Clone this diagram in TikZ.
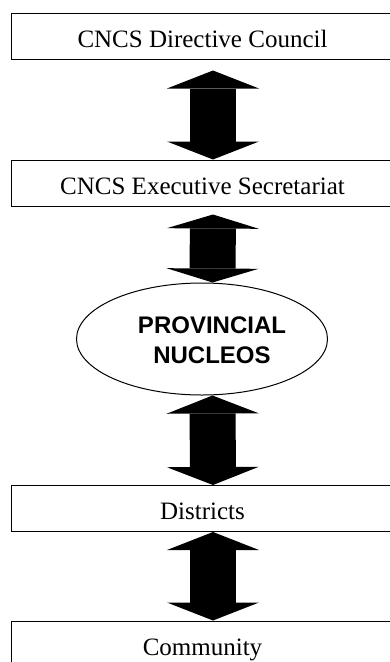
\documentclass[tikz,border=0pt]{standalone}
\usepackage{fontspec}
\setmainfont{Liberation Serif}
\newfontfamily\headfont{Liberation Sans}
\usetikzlibrary{arrows.meta,shapes.geometric}

\begin{document}
\begin{tikzpicture}
  [x=1pt,y=-1pt,every node/.style={inner sep=0pt},
   level/.style={rectangle,draw,line width=1pt,minimum width=383pt,minimum height=46pt,
     font=\fontsize{25}{30}\selectfont,text height=22pt,text depth=0pt},
   bigarrow/.style={line width=46pt,
     {Triangle[width=92pt,length=#1pt,line width=0pt]}-{Triangle[width=92pt,length=#1pt,line width=0pt]}}]
  \useasboundingbox (0,0) rectangle (390,662);

  \node[level] (council) at (202.5,36) {CNCS Directive Council};
  \node[level] (secretariat) at (202.5,183) {CNCS Executive Secretariat};
  \node[ellipse,draw,line width=1pt,minimum width=251pt,minimum height=112pt] (nucleos) at (202,339) {};
  \node[font=\headfont\bfseries\fontsize{24}{30}\selectfont,align=center] (nucleoslabel) at (212,340) {PROVINCIAL\\NUCLEOS};
  \node[level] (districts) at (202.5,508.5) {Districts};
  \node[level] (community) at (202.5,644) {Community};

  \foreach \from/\to/\gap/\head in {council/secretariat/11/18,secretariat/nucleos/8/14,nucleos/districts/0/18,districts/community/0/18}
  \draw[bigarrow=\head,shorten <=\gap pt] ([xshift=10.5pt]\from.south) -- ([xshift=10.5pt]\to.north);

\end{tikzpicture}
\end{document}
